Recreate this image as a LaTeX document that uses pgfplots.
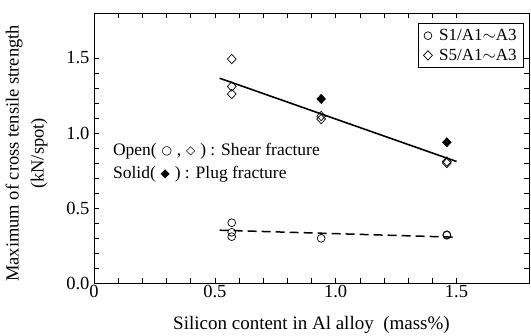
\documentclass[border=0pt]{standalone}
\usepackage{fontspec}
\setmainfont{Liberation Serif}
\newfontfamily\symfont{DejaVu Sans}
\usepackage{pgfplots}
\pgfplotsset{compat=1.18}
\newcommand{\sym}[1]{\raisebox{0.8bp}{\symfont\fontsize{12bp}{12bp}\selectfont #1}}
\begin{document}
\begin{tikzpicture}
\useasboundingbox (0,0) rectangle (531bp,336bp);
\begin{axis}[
  at={(94bp,53bp)}, anchor=south west,
  scale only axis, width=435bp, height=270bp,
  xmin=0, xmax=1.8, ymin=0, ymax=1.8,
  xtick={0,0.5,1.0,1.5}, xticklabels={0,0.5,1.0,1.5},
  ytick={0,0.5,1.0,1.5}, yticklabels={0.0,0.5,1.0,1.5},
  minor x tick num=4, minor y tick num=4,
  major tick length=5bp, minor tick length=5bp,
  tick align=inside,
  tick style={black, line width=0.6pt},
  axis line style={line width=0.8pt},
  /pgf/number format/assume math mode=true,
  ticklabel style={font=\fontsize{18.5bp}{20bp}\selectfont},
  xticklabel style={yshift=1bp},
  yticklabel style={xshift=-1bp},
  xlabel={Silicon content in Al alloy\enspace(mass\%)},
  ylabel={Maximum of cross tensile strength\\(kN/spot)},
  ylabel style={at={(axis description cs:-0.155,0.48)}, anchor=center, align=center, font=\fontsize{18.5bp}{25bp}\selectfont},
  xlabel style={at={(axis description cs:0.5,-0.157)}, anchor=center, font=\fontsize{19bp}{20bp}\selectfont},
  legend style={at={(1,1)}, anchor=north east, xshift=-5bp, yshift=-10bp,
    font=\fontsize{17bp}{19bp}\selectfont, draw=black, line width=0.6pt,
    inner xsep=5bp, inner ysep=4bp, row sep=3bp},
  legend cell align=left,
]
% S1 circles
\addplot[only marks, mark=o, mark size=3.9bp, mark options={line width=0.7pt}] coordinates {
  (0.57,0.402) (0.57,0.338) (0.57,0.309)
  (0.94,0.298)
  (1.46,0.322) (1.46,0.318)
};
\addlegendentry{\;S1/A1\ensuremath{\sim}A3}
% S5 open diamonds
\addplot[only marks, mark=diamond, mark size=4.7bp, mark options={line width=0.7pt, xscale=1.25}] coordinates {
  (0.57,1.493) (0.57,1.31) (0.57,1.26)
  (0.94,1.113) (0.94,1.093)
  (1.46,0.81) (1.46,0.80)
};
\addlegendentry{\;S5/A1\ensuremath{\sim}A3}
% S5 solid diamonds (plug fracture)
\addplot[only marks, mark=diamond*, mark size=4.7bp, mark options={fill=black, xscale=1.25}, forget plot] coordinates {
  (0.94,1.227) (1.46,0.938)
};
% fit lines
\addplot[black, line width=1.6pt, forget plot] coordinates {(0.52,1.365) (1.5,0.81)};
\addplot[black, line width=1.5pt, dash pattern=on 9bp off 5bp, forget plot] coordinates {(0.52,0.352) (1.5,0.305)};
\node[anchor=west, align=left, font=\fontsize{17.5bp}{23bp}\selectfont, inner sep=0pt] at (axis cs:0.078,0.80)
  {Open(\;\sym{○}\;,\;\sym{◇}\;) : Shear fracture\\
   Solid(\;\sym{◆}\;) : Plug fracture};
\end{axis}
\end{tikzpicture}
\end{document}
